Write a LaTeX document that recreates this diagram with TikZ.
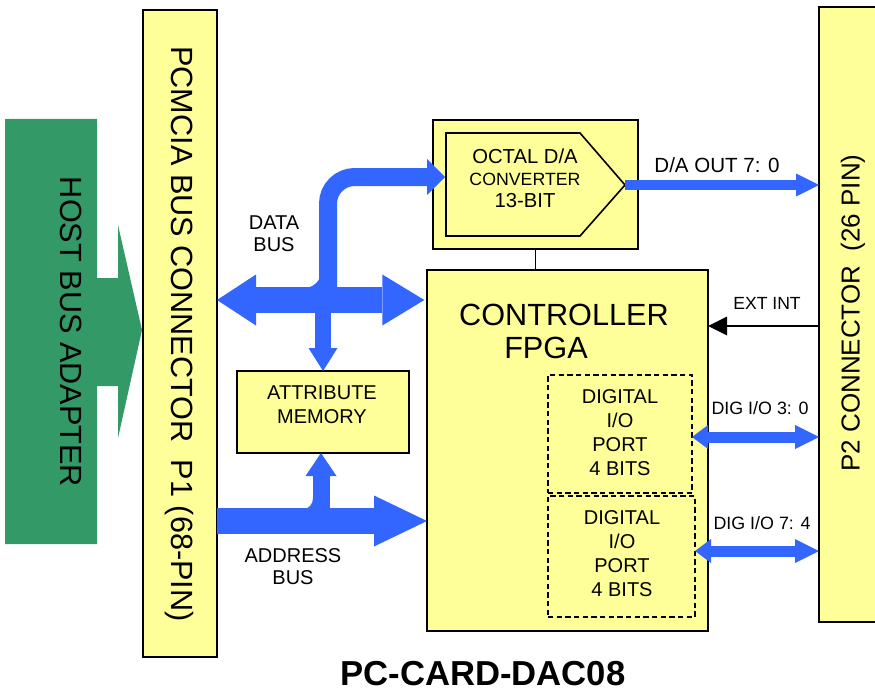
\documentclass[tikz,border=0pt]{standalone}
\usepackage{fontspec}
\setmainfont{Liberation Sans}
\usetikzlibrary{arrows.meta,fit}
\definecolor{cyel}{HTML}{FFFF99}
\definecolor{cgreen}{HTML}{339966}
\definecolor{cblue}{HTML}{3366FF}
\begin{document}
\begin{tikzpicture}[x=0.75pt,y=-0.75pt,
  box/.style={draw=black, fill=cyel, line width=1.3pt, inner sep=0pt, outer sep=0pt},
  dbox/.style={draw=black, dash pattern=on 4pt off 2.5pt, line width=1.2pt, inner sep=0pt, outer sep=0pt},
  txt/.style={inner sep=0pt, align=center, text=black},
  bus/.style={draw=cblue, line cap=butt},
]
\useasboundingbox (0,0) rectangle (875,692);
% coordinates of bus levels
\coordinate (dbus) at (0,300);
\coordinate (abus) at (0,521);
\coordinate (ext) at (0,326);
\coordinate (dio1) at (0,437);
\coordinate (dio2) at (0,551);
\coordinate (upx) at (328,0);
% host bus adapter
\fill[cgreen] (5,119) -- (97,119) -- (97,278) -- (118,278) -- (118,225) -- (142,330)
  -- (118,438) -- (118,386) -- (97,386) -- (97,544) -- (5,544) -- cycle;
\node[txt, rotate=-90, font=\fontsize{23}{27}\selectfont] (hostlbl) at (71,332) {HOST BUS ADAPTER};
% connectors
\node[box, fit={(143,10) (217,657)}] (p1) {};
\node[txt, rotate=-90, font=\fontsize{23}{27}\selectfont] (p1lbl) at (179,334) {PCMCIA BUS CONNECTOR~~P1 (68-PIN)};
\node[box, fit={(819,7) (890,622)}] (p2) {};
\node[txt, rotate=90, font=\fontsize{19.5}{23}\selectfont] (p2lbl) at (853,313) {P2 CONNECTOR~~(26 PIN)};
% D/A converter
\node[box, fit={(433,120) (638,249)}] (dacout) {};
\draw[line width=1.2pt, fill=cyel] (446,133) -- (580,133) -- (625,185) -- (580,236) -- (446,236) -- cycle;
\coordinate (dacin) at (445,177);
\coordinate (dactip) at (625,185);
\node[txt, font=\fontsize{15.2}{16.5}\selectfont] (daclbl) at (525,178) {OCTAL D/A\\{\fontsize{13.3}{16.5}\selectfont CONVERTER}\\13-BIT};
% controller
\node[box, fit={(427,270) (708,631)}] (ctrl) {};
\node[txt, font=\fontsize{23}{24.75}\selectfont] (ctrllbl) at (564,331.5) {CONTROLLER\\FPGA\hspace*{27pt}};
\node[dbox, fit={(548,375) (692,493)}] (port1) {};
\node[dbox, fit={(548,496) (695,617)}] (port2) {};
\node[txt, font=\fontsize{15}{18}\selectfont] (port1lbl) at (620,433) {DIGITAL\\I/O\\PORT\\4 BITS};
\node[txt, font=\fontsize{15}{18}\selectfont] (port2lbl) at (622,554) {DIGITAL\\I/O\\PORT\\4 BITS};
% attribute memory
\node[box, fit={(237,371) (409,453)}] (attr) {};
\node[txt, font=\fontsize{15}{18}\selectfont] (attrlbl) at (322,405) {ATTRIBUTE\\MEMORY};
% labels
\node[txt, font=\fontsize{15}{16.5}\selectfont] (dblbl) at (274,234) {DATA\\BUS};
\node[txt, font=\fontsize{15}{16.5}\selectfont] (ablbl) at (293,567) {ADDRESS\\BUS};
\node[txt, font=\fontsize{15.4}{18}\selectfont] (dalbl) at (717,165) {D/A OUT 7: 0};
\node[txt, font=\fontsize{13.2}{16}\selectfont] (extlbl) at (767,303) {EXT INT};
\node[txt, font=\fontsize{13.4}{16}\selectfont] (dio1lbl) at (760,408) {DIG I/O 3: 0};
\node[txt, font=\fontsize{13.4}{16}\selectfont] (dio2lbl) at (762,523) {DIG I/O 7: 4};
\node[txt, font=\fontsize{26}{30}\selectfont\bfseries] (title) at (483,674) {PC-CARD-DAC08};
% D/A to controller link
\draw[line width=1pt] (dacout.south) -- (ctrl.north -| dacout.south);
% data bus
\draw[bus, line width=13.5pt, rounded corners=20pt, -{Triangle[length=13.5pt,width=27pt,line width=0pt]}]
  (upx |- dbus) |- (dacin);
\fill[cblue] (321,272) .. controls (321,280) and (314,288) .. (304,288) -- (322,288) -- cycle;
\draw[bus, line width=12pt, -{Triangle[length=17.25pt,width=21.75pt,line width=0pt]}]
  (attr.north |- dbus) -- (attr.north);
\draw[bus, line width=19.5pt, {Triangle[length=29.25pt,width=38.25pt,line width=0pt]}-{Triangle[length=31.5pt,width=38.25pt,line width=0pt]}]
  (p1.east |- dbus) -- ([xshift=-2pt]ctrl.west |- dbus);
% address bus
\draw[bus, line width=12.75pt, -{Triangle[length=17.25pt,width=23.25pt,line width=0pt]}]
  ([xshift=-1.5pt]attr.south |- abus) -- ([xshift=-1.5pt]attr.south);
\fill[cblue] (313,498) .. controls (313,504) and (309,509) .. (303,509) -- (314,509) -- cycle;
\draw[bus, line width=19.5pt, -{Triangle[length=39.75pt,width=38.25pt,line width=0pt]}]
  (p1.east |- abus) -- (ctrl.west |- abus);
% D/A out
\draw[bus, line width=7.5pt, -{Triangle[length=17.25pt,width=17.25pt,line width=0pt]}]
  (dactip) -- (p2.west |- dactip);
% digital I/O
\draw[bus, line width=8.25pt, {Triangle[length=12pt,width=18pt,line width=0pt]}-{Triangle[length=18pt,width=18pt,line width=0pt]}]
  (port1.east |- dio1) -- (p2.west |- dio1);
\draw[bus, line width=8.25pt, {Triangle[length=12pt,width=18pt,line width=0pt]}-{Triangle[length=18pt,width=18pt,line width=0pt]}]
  (port2.east |- dio2) -- (p2.west |- dio2);
% ext int
\draw[line width=1.1pt, -{Triangle[length=14.25pt,width=14.25pt,line width=0pt]}]
  (p2.west |- ext) -- (ctrl.east |- ext);
\end{tikzpicture}
\end{document}
